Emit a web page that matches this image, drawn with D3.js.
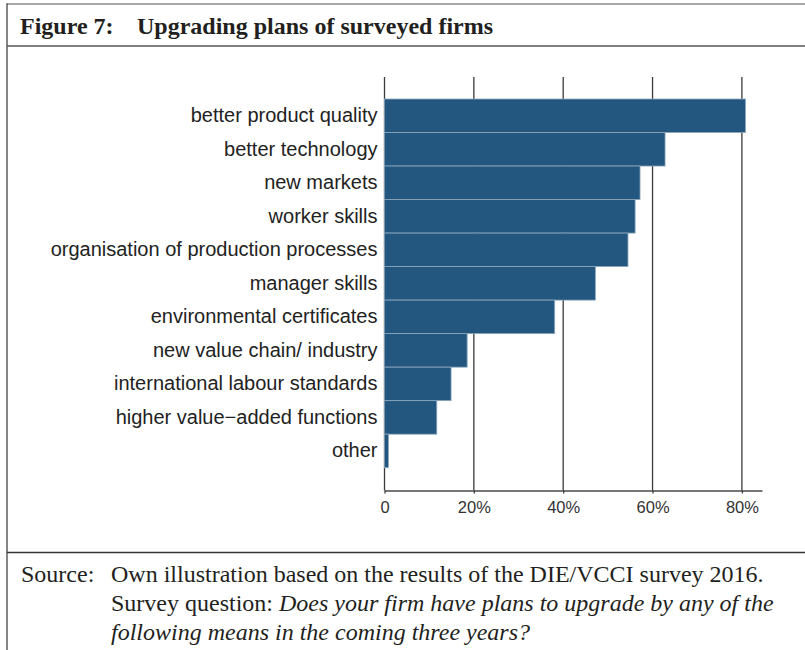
<!DOCTYPE html>
<html>
<head>
<meta charset="utf-8">
<script src="https://cdn.jsdelivr.net/npm/d3@7"></script>
<style>
  body { margin: 0; background: #fff; }
  svg { display: block; }
</style>
</head>
<body>
<div class="chart"></div>
<script>
// upgrading plans, share of firms (%)
var categories = [
    "better product quality",
    "better technology",
    "new markets",
    "worker skills",
    "organisation of production processes",
    "manager skills",
    "environmental certificates",
    "new value chain/ industry",
    "international labour standards",
    "higher value\u2212added functions",
    "other"
];
var shares = [80.8, 62.8, 57.2, 56.1, 54.5, 47.2, 38.1, 18.5, 14.9, 11.7, 0.9];
var tickValues = [0, 20, 40, 60, 80];
var tickLabels = ["0", "20%", "40%", "60%", "80%"];

var width = 805,
    height = 650;

var svg = d3.select(".chart")
    .append("svg")
    .attr("width", width)
    .attr("height", height);

// frame of the figure box
var frame = svg.append("g").attr("class", "frame");
frame.append("line")
    .attr("x1", 7).attr("x2", width).attr("y1", 4).attr("y2", 4)
    .style("stroke", "#8a8a8a").style("stroke-width", 1.5);
frame.append("line")
    .attr("x1", 7).attr("x2", 7).attr("y1", 3.3).attr("y2", height)
    .style("stroke", "#444").style("stroke-width", 1.3);
frame.append("line")
    .attr("x1", 7).attr("x2", width).attr("y1", 46).attr("y2", 46)
    .style("stroke", "#555").style("stroke-width", 1.6);
frame.append("line")
    .attr("x1", 7).attr("x2", width).attr("y1", 552.5).attr("y2", 552.5)
    .style("stroke", "#333").style("stroke-width", 1.5);

// title
var title = svg.append("g")
    .style("font-family", "'Liberation Serif', 'Times New Roman', serif")
    .style("font-weight", "bold")
    .style("font-size", "24px")
    .style("fill", "#231f20");
title.append("text").attr("x", 20).attr("y", 34).text("Figure 7:");
title.append("text").attr("x", 137).attr("y", 34).text("Upgrading plans of surveyed firms");

// scales
var x = d3.scaleLinear()
    .domain([0, 84.5])
    .range([384.5, 762]);

var y = d3.scaleBand()
    .domain(categories)
    .range([99, 467.7])
    .padding(0);

var plot = svg.append("g");

// vertical grid lines (behind the bars)
plot.append("g")
    .selectAll("line")
    .data(tickValues)
    .enter().append("line")
    .attr("x1", function (d) { return x(d); })
    .attr("x2", function (d) { return x(d); })
    .attr("y1", 77)
    .attr("y2", 490.5)
    .style("stroke", "#3a3a3a")
    .style("stroke-width", 1.3);

// bars
plot.append("g")
    .selectAll("rect")
    .data(shares)
    .enter().append("rect")
    .attr("x", x(0))
    .attr("y", function (d, i) { return y(categories[i]); })
    .attr("width", function (d) { return x(d) - x(0); })
    .attr("height", y.bandwidth())
    .style("fill", "#23577f")
    .style("stroke", "#8ea8be")
    .style("stroke-width", 0.8);

// x axis
var xAxis = d3.axisBottom(x)
    .tickValues(tickValues)
    .tickFormat(function (d, i) { return tickLabels[i]; })
    .tickSize(3)
    .tickSizeOuter(0);

var gx = plot.append("g")
    .attr("transform", "translate(0,490.5)")
    .call(xAxis);
gx.select(".domain").style("stroke", "#4a4a4a").style("stroke-width", 1.3);
gx.selectAll(".tick line").style("stroke", "#3a3a3a").style("stroke-width", 1.3);
gx.selectAll(".tick text")
    .attr("y", 11)
    .style("font-family", "'Liberation Sans', Arial, sans-serif")
    .style("font-size", "16.5px")
    .style("fill", "#333");

// category labels
var yAxis = d3.axisLeft(y)
    .tickSize(0)
    .tickPadding(7);

var gy = plot.append("g")
    .attr("transform", "translate(384.5,0)")
    .call(yAxis);
gy.select(".domain").remove();
gy.selectAll(".tick text")
    .style("font-family", "'Liberation Sans', Arial, sans-serif")
    .style("font-size", "20px")
    .style("fill", "#222");

// source note
var note = svg.append("g")
    .style("font-family", "'Liberation Serif', 'Times New Roman', serif")
    .style("font-size", "24px")
    .style("fill", "#231f20");
note.append("text").attr("x", 21).attr("y", 582).text("Source:");
note.append("text").attr("x", 111).attr("y", 582)
    .text("Own illustration based on the results of the DIE/VCCI survey 2016.");
var q = note.append("text").attr("x", 111).attr("y", 611);
q.append("tspan").text("Survey question: ");
q.append("tspan").style("font-style", "italic")
    .text("Does your firm have plans to upgrade by any of the");
note.append("text").attr("x", 111).attr("y", 640)
    .style("font-style", "italic")
    .text("following means in the coming three years?");
</script>
</body>
</html>
